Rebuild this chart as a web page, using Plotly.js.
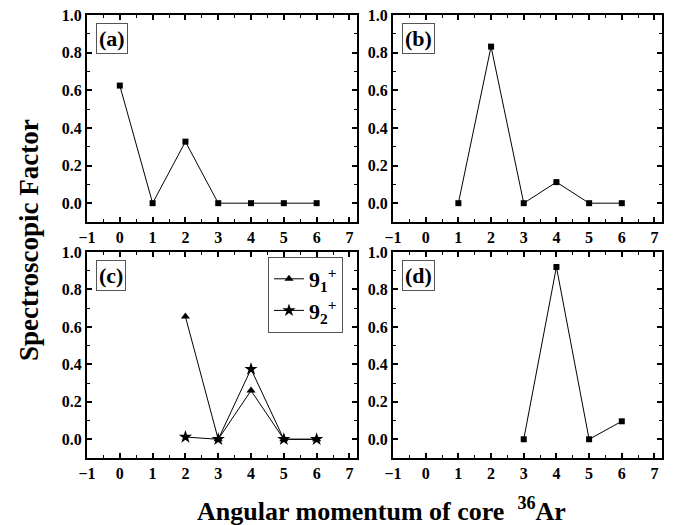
<!DOCTYPE html>
<html><head><meta charset="utf-8">
<script src="https://cdn.plot.ly/plotly-3.0.1.min.js"></script>
</head><body style="margin:0;background:#fff">
<div id="chart"></div>
<script>
// Data
const xA = [0, 1, 2, 3, 4, 5, 6];
const yA = [0.625, 0, 0.327, 0, 0, 0, 0];
const xB = [1, 2, 3, 4, 5, 6];
const yB = [0, 0.832, 0, 0.112, 0, 0];
const xC = [2, 3, 4, 5, 6];
const yC1 = [0.655, 0, 0.26, 0, 0];
const yC2 = [0.012, 0, 0.375, 0, 0];
const xD = [3, 4, 5, 6];
const yD = [0, 0.92, 0, 0.096];
const panelLabels = ['(a)', '(b)', '(c)', '(d)'];
const legendNames = ['9<sub>1</sub><sup>+</sup>', '9<sub>2</sub><sup>+</sup>'];
const xTitle = 'Angular momentum of core  <sup>36</sup>Ar';
const yTitle = 'Spectroscopic Factor';

const W = 673, H = 525;
const FONT = 'Liberation Serif';
const lineStyle = {color: '#000', width: 1};
const sq = {symbol: 'square', size: 6, color: '#000'};

function draw() {
  const traces = [
    {x: xA, y: yA, xaxis: 'x', yaxis: 'y', mode: 'lines+markers', line: lineStyle, marker: sq, showlegend: false},
    {x: xB, y: yB, xaxis: 'x2', yaxis: 'y2', mode: 'lines+markers', line: lineStyle, marker: sq, showlegend: false},
    {x: xC, y: yC1, xaxis: 'x3', yaxis: 'y3', mode: 'lines+markers', line: lineStyle, name: legendNames[0],
     marker: {symbol: 'triangle-up', size: 8, color: '#000'}},
    {x: xC, y: yC2, xaxis: 'x3', yaxis: 'y3', mode: 'lines+markers', line: lineStyle, name: legendNames[1],
     marker: {symbol: 'star', size: 10, color: '#000'}},
    {x: xD, y: yD, xaxis: 'x4', yaxis: 'y4', mode: 'lines+markers', line: lineStyle, marker: sq, showlegend: false}
  ];
  function xax(domain, anchor) {
    return {domain, anchor, range: [-1, 7.23], dtick: 1, tick0: 0, ticks: 'inside', ticklen: 5, tickwidth: 1.5, tickcolor: '#000',
      showline: true, linewidth: 2, linecolor: '#000', mirror: 'ticks', showgrid: false, zeroline: false,
      tickfont: {family: FONT, size: 16, weight: 'bold', color: '#000'},
      minor: {dtick: 0.5, ticks: 'inside', ticklen: 3, tickwidth: 1, tickcolor: '#000', showgrid: false}};
  }
  function yax(domain, anchor) {
    return {domain, anchor, range: [-0.1, 1.0], dtick: 0.2, tick0: 0, tickformat: '.1f', ticks: 'inside', ticklen: 5, tickwidth: 1.5, tickcolor: '#000',
      showline: true, linewidth: 2, linecolor: '#000', mirror: 'ticks', showgrid: false, zeroline: false,
      tickfont: {family: FONT, size: 16, weight: 'bold', color: '#000'},
      minor: {dtick: 0.1, ticks: 'inside', ticklen: 3, tickwidth: 1, tickcolor: '#000', showgrid: false}};
  }
  const colL = [87 / W, 357 / W], colR = [393 / W, 662 / W];
  const rowT = [1 - 222 / H, 1 - 15 / H], rowB = [1 - 458 / H, 1 - 252 / H];

  const labelPos = [[96, 23], [402, 23], [96, 260], [402, 260]];
  const annotations = panelLabels.map((t, i) => ({
    text: '<b>' + t + '</b>', xref: 'paper', yref: 'paper',
    x: labelPos[i][0] / W, y: 1 - labelPos[i][1] / H, xanchor: 'left', yanchor: 'top', showarrow: false,
    font: {family: FONT, size: 22, color: '#000'}, bordercolor: '#555', borderwidth: 1, borderpad: 2
  }));
  annotations.push({text: '<b>' + xTitle + '</b>', xref: 'paper', yref: 'paper', x: 381 / W, y: 1 - 509 / H,
    xanchor: 'center', yanchor: 'middle', showarrow: false, font: {family: FONT, size: 26, color: '#000'}});
  annotations.push({text: '<b>' + yTitle + '</b>', xref: 'paper', yref: 'paper', x: 29 / W, y: 1 - 240 / H,
    xanchor: 'center', yanchor: 'middle', textangle: -90, showarrow: false, font: {family: FONT, size: 27, color: '#000'}});

  const layout = {
    width: W, height: H, margin: {l: 0, r: 0, t: 0, b: 0},
    paper_bgcolor: '#fff', plot_bgcolor: '#fff',
    font: {family: FONT, color: '#000', weight: 'bold'},
    xaxis: xax(colL, 'y'), yaxis: yax(rowT, 'x'),
    xaxis2: xax(colR, 'y2'), yaxis2: yax(rowT, 'x2'),
    xaxis3: xax(colL, 'y3'), yaxis3: yax(rowB, 'x3'),
    xaxis4: xax(colR, 'y4'), yaxis4: yax(rowB, 'x4'),
    showlegend: true,
    legend: {x: 268 / W, y: 1 - 257 / H, xanchor: 'left', yanchor: 'top', bordercolor: '#555', borderwidth: 1,
      bgcolor: '#fff', font: {family: FONT, size: 22, weight: 'bold', color: '#000'}, itemwidth: 30, tracegroupgap: 10},
    annotations
  };
  return Plotly.newPlot('chart', traces, layout, {displayModeBar: false});
}
let drawn = false;
function once() { if (!drawn) { drawn = true; draw(); } }
if (document.fonts && document.fonts.load) {
  Promise.all([document.fonts.load('bold 16px "Liberation Serif"'), document.fonts.load('16px "Liberation Serif"')]).then(once, once);
  setTimeout(once, 300);
} else { once(); }
</script></body></html>
